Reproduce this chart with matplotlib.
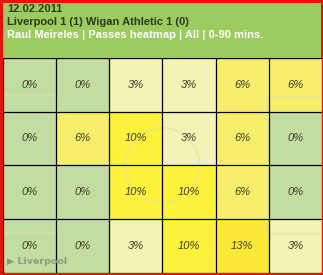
import matplotlib
matplotlib.use("Agg")
import matplotlib.pyplot as plt
from matplotlib.colors import LinearSegmentedColormap
from matplotlib.patches import Rectangle, Circle
import numpy as np

# header texts
match_date = "12.02.2011"
match_title = "Liverpool 1 (1) Wigan Athletic 1 (0)"
sub_title = "Raul Meireles | Passes heatmap | All | 0-90 mins."
team_label = "\u25b6 Liverpool"

# pass share per zone, top row first (percent)
passes = [
    [0, 0, 3, 3, 6, 6],
    [0, 6, 10, 3, 6, 0],
    [0, 0, 10, 10, 6, 0],
    [0, 0, 3, 10, 13, 3],
]

W, H = 323, 275
fig = plt.figure(figsize=(W / 100, H / 100), dpi=100)
fig.patch.set_facecolor("#e8120c")

def px(x0, y0, x1, y1):
    # pixel box (from top-left) -> figure fraction rect
    return [x0 / W, 1 - y1 / H, (x1 - x0) / W, (y1 - y0) / H]

# green card inside the red frame
bg = fig.add_axes(px(3, 2.5, 321, 272))
bg.set_facecolor("#9ccb5f")
bg.set_xticks([])
bg.set_yticks([])
for s in bg.spines.values():
    s.set_visible(False)

head_kw = dict(fontsize=8.0, fontweight="bold", family="Liberation Sans",
               va="baseline")
fig.text(7 / W, 1 - 11.8 / H, match_date, color="#2e3a1c", **head_kw)
fig.text(7 / W, 1 - 24.6 / H, match_title, color="#2e3a1c", **head_kw)
fig.text(7 / W, 1 - 37.5 / H, sub_title, color="white", **head_kw)

# heatmap grid
ax = fig.add_axes(px(2.5, 58, 322, 272.5))
data = np.array(passes)
cmap = LinearSegmentedColormap.from_list(
    "passes",
    [(0.0, "#c3dca2"), (3 / 13, "#f2f3b4"), (6 / 13, "#f7ef6c"),
     (10 / 13, "#fdf13b"), (1.0, "#fbe935")])
nrows, ncols = data.shape
ax.pcolormesh(np.arange(ncols + 1), np.arange(nrows + 1), data, cmap=cmap,
              vmin=0, vmax=13)
ax.set_xlim(0, ncols)
ax.set_ylim(nrows, 0)
ax.set_xticks([])
ax.set_yticks([])
for s in ax.spines.values():
    s.set_visible(False)

# faint pitch markings
line_kw = dict(color="#e0e0a8", alpha=0.5, linewidth=1.5, zorder=1.5)
ax.add_patch(Circle((3, 2), 0.7, fill=False, **line_kw))
ax.add_patch(Rectangle((-0.1, 0.69), 1.13, 2.57, fill=False, **line_kw))
ax.add_patch(Rectangle((ncols - 1.03, 0.73), 1.13, 2.55, fill=False, **line_kw))

# cell borders
for k in range(ncols + 1):
    ax.axvline(k, color="black", linewidth=0.9, zorder=2)
for k in range(nrows + 1):
    ax.axhline(k, color="black", linewidth=0.9, zorder=2)

for r in range(nrows):
    for c in range(ncols):
        ax.text(c + 0.5, r + 0.5, f"{data[r, c]}%", ha="center", va="center",
                fontsize=8.0, style="italic", color="#3d3d25",
                family="Liberation Sans", zorder=3)

fig.text(7 / W, 1 - 262 / H, team_label, color="#8c9c80", fontsize=6.8,
         fontweight="bold", family="DejaVu Sans", va="center")

fig.savefig("out.png", dpi=100, facecolor=fig.get_facecolor())
